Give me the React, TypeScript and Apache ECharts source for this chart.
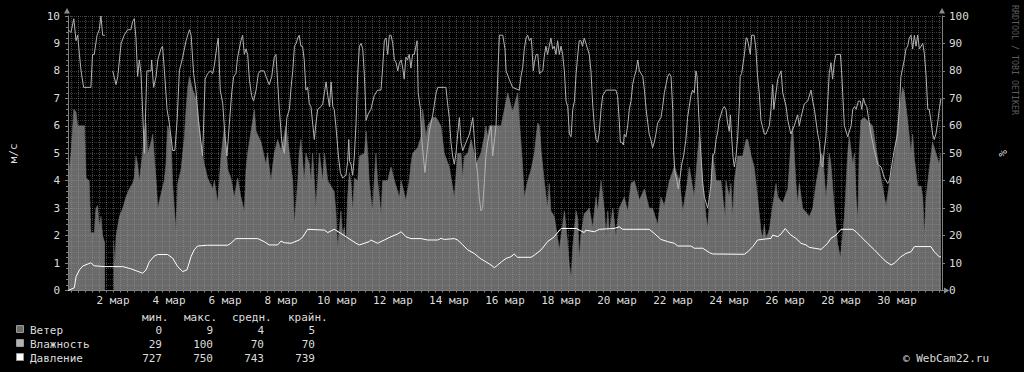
import React, { useEffect, useRef } from 'react';
import * as echarts from 'echarts';

// ---- time helpers (day-of-March, UTC) ----
const DAY_MS = 86400000;
const BASE = Date.UTC(2025, 2, 1);
const ts = (d: number) => BASE + (d - 1) * DAY_MS;
const RANGE_START = 0.393;
const RANGE_END = 31.607;
const MONTH = 'мар';

// ---- data: [day of March, value] ----
const windData: [number, number | null][] = [
  [0.40,4.1],[0.50,5.0],[0.60,6.6],[0.68,6.5],[0.74,6.0],[0.98,6.0],[1.04,4.1],[1.15,4.0],[1.21,2.1],[1.33,2.1],[1.39,3.0],[1.45,3.1],[1.51,2.3],[1.57,2.7],[1.63,2.0],[1.71,1.7],[1.74,null],
  [2.02,1.8],[2.07,1.0],[2.11,2.0],[2.23,2.7],[2.35,3.0],[2.46,3.4],[2.58,3.7],[2.70,3.9],[2.76,4.1],[2.82,4.9],[2.88,4.6],[2.94,4.0],[3.06,5.0],[3.12,5.8],[3.18,6.1],[3.24,5.0],[3.36,5.4],[3.42,5.7],[3.48,4.8],[3.54,4.0],[3.60,3.0],[3.71,3.5],[3.83,4.0],[3.89,4.6],[3.95,6.0],
  [4.07,5.6],[4.13,3.9],[4.19,3.0],[4.25,2.2],[4.31,3.9],[4.43,4.4],[4.55,5.6],[4.61,6.6],[4.67,7.4],[4.73,7.8],[4.85,7.3],[4.96,7.0],[5.02,6.6],[5.14,5.4],[5.26,4.6],[5.38,4.1],[5.56,3.7],[5.62,4.0],[5.74,3.2],[5.86,4.9],[5.98,6.0],
  [6.10,4.4],[6.21,4.1],[6.33,3.4],[6.45,4.1],[6.57,3.4],[6.69,2.9],[6.75,4.4],[6.81,5.0],[6.93,5.8],[7.05,6.6],[7.11,5.8],[7.29,5.4],[7.46,4.6],[7.52,5.0],[7.64,4.0],[7.76,5.0],[7.88,5.5],
  [8.00,5.1],[8.18,6.0],[8.30,5.0],[8.42,4.0],[8.48,2.4],[8.60,4.0],[8.65,5.0],[8.71,5.5],[8.83,4.0],[8.89,5.0],[9.01,4.6],[9.07,4.0],[9.13,5.0],[9.19,4.0],[9.25,3.0],[9.31,4.0],[9.37,5.0],[9.49,4.0],[9.55,5.0],[9.67,4.0],[9.90,3.6],[9.96,2.9],
  [10.02,1.5],[10.08,2.2],[10.14,2.9],[10.20,2.0],[10.26,2.3],[10.32,1.7],[10.38,3.4],[10.44,4.3],[10.50,3.9],[10.56,2.9],[10.62,4.1],[10.74,4.0],[10.80,4.9],[10.98,5.0],[11.04,5.8],[11.10,5.0],[11.15,4.0],[11.21,3.4],[11.27,2.9],[11.33,4.0],[11.39,5.0],[11.45,4.0],[11.57,2.8],[11.63,4.0],[11.81,4.0],[11.93,4.5],
  [12.05,4.0],[12.23,3.4],[12.29,4.0],[12.46,3.3],[12.58,4.0],[12.64,4.6],[12.70,5.0],[12.88,5.2],[13.00,5.6],[13.06,6.6],[13.18,5.6],[13.24,6.0],[13.42,6.3],[13.54,6.3],[13.71,6.0],[13.83,5.0],
  [14.01,4.5],[14.19,3.4],[14.31,5.0],[14.43,5.0],[14.49,4.1],[14.55,4.9],[14.67,5.0],[14.79,5.5],[14.90,5.0],[14.96,4.6],[15.14,5.0],[15.26,5.6],[15.32,6.0],[15.38,5.6],[15.44,6.0],[15.86,6.0],
  [16.10,7.2],[16.27,6.5],[16.45,7.2],[16.51,6.2],[16.57,5.4],[16.63,4.5],[16.69,3.4],[16.81,4.0],[16.93,4.4],[17.05,5.0],[17.11,5.6],[17.17,6.1],[17.23,6.0],[17.29,5.1],[17.40,4.0],[17.52,3.0],[17.58,3.9],[17.64,2.9],[17.76,2.7],[17.88,1.9],[17.94,1.5],
  [18.06,2.4],[18.12,2.9],[18.24,1.7],[18.30,0.9],[18.36,0.5],[18.42,1.6],[18.54,2.9],[18.60,2.6],[18.65,1.2],[18.71,2.0],[18.83,2.8],[19.01,3.0],[19.13,2.3],[19.25,3.4],[19.31,2.9],[19.43,4.0],[19.55,2.9],[19.61,2.0],[19.67,2.9],[19.73,2.1],[19.85,3.0],[19.96,2.0],
  [20.08,3.0],[20.26,3.4],[20.38,2.9],[20.50,3.9],[20.62,4.0],[20.80,3.3],[20.98,3.7],[21.15,3.0],[21.27,3.0],[21.45,2.4],[21.57,3.4],[21.69,3.1],[21.87,4.0],
  [22.05,4.5],[22.23,4.0],[22.35,2.9],[22.52,4.0],[22.58,4.5],[22.76,3.4],[22.88,5.0],[22.94,5.6],[23.06,4.0],[23.18,2.7],[23.24,2.3],[23.36,4.0],[23.42,5.0],[23.54,4.0],[23.71,4.0],[23.86,2.7],[23.89,4.0],
  [24.01,3.4],[24.07,3.9],[24.13,2.7],[24.19,4.0],[24.31,4.9],[24.49,4.9],[24.61,5.5],[24.67,5.5],[24.79,4.9],[24.90,4.5],[25.02,3.4],[25.14,2.2],[25.20,1.9],[25.26,2.4],[25.32,1.9],[25.44,2.2],[25.56,3.1],[25.68,3.9],[25.74,3.4],[25.92,3.2],
  [26.10,3.7],[26.15,4.4],[26.21,5.4],[26.27,6.0],[26.33,5.0],[26.39,3.9],[26.45,3.2],[26.51,3.9],[26.63,3.0],[26.87,2.7],[26.99,3.0],[27.11,3.9],[27.23,4.6],[27.29,5.0],[27.35,4.9],[27.46,3.4],[27.52,4.0],[27.58,5.0],[27.64,4.6],[27.76,3.0],[27.88,1.7],[27.98,1.2],
  [28.12,2.7],[28.24,5.0],[28.30,5.6],[28.42,4.6],[28.48,5.0],[28.54,3.4],[28.60,2.6],[28.65,5.0],[28.71,6.2],[28.83,6.3],[29.13,6.0],[29.19,5.6],[29.31,4.8],[29.43,4.1],[29.55,3.4],[29.61,3.1],[29.73,3.9],[29.90,4.8],
  [30.02,6.0],[30.08,6.6],[30.20,7.4],[30.26,7.2],[30.38,6.2],[30.50,5.0],[30.56,5.7],[30.62,4.8],[30.74,3.8],[30.86,3.8],[30.92,3.4],[30.98,2.0],[31.04,3.4],[31.15,4.4],[31.27,5.4],[31.39,5.0],[31.51,4.6],[31.57,5.0],
];

const humidityData: [number, number | null][] = [
  [0.40,95],[0.50,94],[0.60,99],[0.68,91],[0.74,93],[0.80,86],[0.86,80],[0.95,74],[1.21,74],[1.27,86],[1.33,86],[1.43,93],[1.51,95],[1.57,100],[1.63,93],[1.71,93],[1.75,null],
  [1.99,80],[2.11,75],[2.17,78],[2.23,84],[2.29,90],[2.40,93],[2.52,95],[2.64,95],[2.70,98],[2.76,99],[2.82,92],[2.88,78],[2.94,84],[3.00,79],[3.06,65],[3.12,50],[3.21,80],[3.36,80],[3.38,84],[3.45,74],[3.54,78],[3.60,84],[3.71,88],[3.77,89],[3.83,81],[3.93,66],
  [4.01,61],[4.13,51],[4.21,51],[4.29,62],[4.37,80],[4.49,85],[4.61,91],[4.73,95],[4.79,93],[4.88,79],[4.96,73],[5.05,62],[5.14,54],[5.20,49],[5.29,77],[5.38,79],[5.48,80],[5.56,79],[5.62,82],[5.71,89],[5.76,92],[5.83,73],[5.92,68],
  [6.00,56],[6.07,49],[6.15,60],[6.24,72],[6.31,78],[6.39,79],[6.45,85],[6.57,91],[6.63,93],[6.69,86],[6.75,88],[6.81,86],[6.87,77],[6.95,71],[7.02,69],[7.11,73],[7.19,79],[7.26,80],[7.40,80],[7.46,78],[7.58,75],[7.67,78],[7.76,85],[7.82,86],[7.88,76],[7.94,66],
  [8.03,54],[8.12,50],[8.21,63],[8.30,66],[8.36,74],[8.42,80],[8.48,89],[8.54,90],[8.60,92],[8.65,93],[8.71,89],[8.77,89],[8.83,84],[8.89,73],[8.95,74],[9.01,68],[9.07,67],[9.13,61],[9.19,55],[9.25,61],[9.31,66],[9.43,67],[9.49,68],[9.55,72],[9.61,76],[9.67,71],[9.73,67],[9.79,76],[9.85,67],[9.90,66],[9.96,60],
  [10.05,49],[10.12,43],[10.20,41],[10.32,42],[10.38,47],[10.42,55],[10.45,47],[10.50,46],[10.56,42],[10.62,49],[10.68,61],[10.74,79],[10.80,89],[10.86,90],[10.92,88],[10.98,78],[11.04,62],[11.10,64],[11.21,66],[11.33,71],[11.45,73],[11.57,73],[11.63,81],[11.69,91],[11.75,92],[11.81,86],[11.87,93],[11.93,93],[11.99,90],
  [12.05,84],[12.11,83],[12.17,80],[12.23,83],[12.29,84],[12.35,81],[12.40,77],[12.46,85],[12.52,84],[12.58,86],[12.64,81],[12.70,86],[12.76,86],[12.86,91],[12.90,72],[12.98,66],[13.02,56],[13.10,47],[13.14,43],[13.21,50],[13.30,58],[13.42,64],[13.54,72],[13.60,74],[13.89,74],[13.95,68],
  [14.01,63],[14.07,54],[14.13,49],[14.19,46],[14.25,50],[14.31,57],[14.37,63],[14.43,54],[14.49,51],[14.61,54],[14.73,57],[14.85,63],[14.90,56],[14.96,47],[15.02,43],[15.08,34],[15.14,29],[15.20,30],[15.26,39],[15.32,49],[15.38,54],[15.50,60],[15.56,49],[15.68,60],[15.74,78],[15.80,93],[15.92,93],
  [16.00,88],[16.04,80],[16.15,77],[16.27,74],[16.51,73],[16.57,78],[16.63,81],[16.69,88],[16.75,92],[16.81,93],[16.87,91],[16.93,92],[16.96,89],[17.01,80],[17.05,83],[17.11,86],[17.17,86],[17.23,79],[17.35,80],[17.40,85],[17.46,89],[17.52,86],[17.58,89],[17.64,92],[17.70,88],[17.76,89],[17.82,86],[17.88,91],[17.94,86],
  [18.00,89],[18.06,86],[18.12,80],[18.18,69],[18.24,67],[18.30,57],[18.36,56],[18.42,66],[18.48,69],[18.54,79],[18.60,86],[18.65,91],[18.71,91],[18.77,89],[18.83,92],[18.89,90],[18.95,88],[19.01,86],[19.07,80],[19.13,68],[19.19,60],[19.25,55],[19.31,54],[19.37,58],[19.43,66],[19.49,71],[19.61,73],[19.96,73],
  [20.02,71],[20.08,62],[20.12,54],[20.17,54],[20.23,53],[20.26,57],[20.32,56],[20.38,60],[20.44,66],[20.50,69],[20.56,75],[20.62,78],[20.68,80],[20.74,84],[20.80,80],[20.92,78],[20.98,73],[21.04,66],[21.10,61],[21.15,57],[21.21,55],[21.27,52],[21.33,54],[21.39,57],[21.45,61],[21.57,63],[21.63,67],[21.69,72],[21.75,75],[21.81,78],[21.87,79],[21.93,78],[21.99,66],
  [22.02,51],[22.07,43],[22.14,40],[22.19,37],[22.25,41],[22.31,46],[22.38,49],[22.46,55],[22.52,63],[22.58,67],[22.64,71],[22.70,73],[22.76,72],[22.82,80],[22.86,78],[22.90,68],[22.96,56],[23.00,49],[23.06,39],[23.12,34],[23.18,32],[23.24,30],[23.30,34],[23.36,39],[23.42,49],[23.48,50],[23.54,55],[23.60,58],[23.65,62],[23.77,66],[23.83,67],[23.89,66],[23.95,61],
  [24.01,58],[24.05,64],[24.10,55],[24.14,49],[24.19,45],[24.25,49],[24.31,56],[24.37,68],[24.40,78],[24.45,79],[24.55,86],[24.61,92],[24.64,92],[24.69,90],[24.76,86],[24.81,93],[24.90,93],[24.96,88],[25.02,78],[25.08,72],[25.14,62],[25.26,57],[25.32,57],[25.44,60],[25.50,66],[25.56,75],[25.60,66],[25.64,69],[25.74,77],[25.86,80],[25.92,72],
  [26.04,67],[26.10,62],[26.21,57],[26.33,60],[26.45,64],[26.51,60],[26.57,63],[26.69,68],[26.81,69],[26.93,73],[26.99,69],[27.05,66],[27.17,57],[27.23,54],[27.29,46],[27.35,45],[27.40,51],[27.46,56],[27.52,68],[27.58,79],[27.64,83],[27.70,77],[27.76,83],[27.82,86],[27.98,86],
  [28.02,80],[28.06,72],[28.12,60],[28.24,56],[28.36,60],[28.42,66],[28.48,67],[28.54,66],[28.62,69],[28.69,69],[28.74,66],[28.80,70],[28.86,68],[28.92,67],[28.98,63],[29.07,57],[29.19,51],[29.31,46],[29.43,45],[29.55,41],[29.67,39],[29.73,40],[29.79,44],[29.90,51],[29.96,54],
  [30.02,57],[30.08,66],[30.14,78],[30.20,81],[30.26,84],[30.32,88],[30.38,89],[30.44,92],[30.50,93],[30.56,88],[30.62,93],[30.68,89],[30.74,93],[30.80,88],[30.92,90],[30.98,86],[31.04,78],[31.10,66],[31.15,66],[31.21,62],[31.27,57],[31.33,55],[31.39,57],[31.45,61],[31.51,66],[31.57,70],
];

const pressureData: [number, number][] = [
  [0.40,727.0],[0.62,728.0],[0.68,732.0],[0.80,734.5],[0.92,735.9],[1.21,737.1],[1.33,736.0],[1.69,735.7],[2.35,735.7],[2.64,734.9],[3.06,733.3],[3.18,734.5],[3.30,737.5],[3.48,739.6],[3.60,740.1],[3.95,740.1],
  [4.13,738.8],[4.31,735.7],[4.49,733.9],[4.64,734.5],[4.79,739.4],[4.90,741.8],[5.02,743.2],[5.38,743.5],[6.10,743.5],[6.21,744.2],[6.39,745.9],[7.17,745.9],[7.40,744.8],[7.58,743.6],[7.88,743.6],
  [8.00,745.0],[8.12,744.4],[8.36,744.2],[8.65,745.4],[8.77,746.4],[8.95,749.3],[9.55,749.0],[9.67,748.1],[9.90,749.3],[10.14,747.8],[10.32,746.6],[10.50,745.4],[10.68,744.2],[10.80,743.6],[11.15,744.8],[11.21,745.4],[11.45,744.2],[11.69,745.4],[11.93,746.6],
  [12.17,747.6],[12.29,748.4],[12.46,746.6],[12.64,745.9],[13.00,745.9],[13.24,745.4],[13.60,745.4],[13.71,746.0],[13.83,745.6],[14.19,745.9],[14.31,745.4],[14.49,743.6],[14.67,741.8],[14.90,740.5],[15.14,738.5],[15.26,737.8],[15.50,736.3],[15.62,735.3],[15.74,736.3],[15.92,737.8],
  [16.04,738.7],[16.21,739.3],[16.33,740.3],[16.45,739.1],[16.93,739.1],[17.05,739.9],[17.29,741.8],[17.52,744.8],[17.76,746.6],[18.00,749.6],[18.54,749.6],[18.83,748.1],[18.89,749.0],[19.19,748.4],[19.37,749.3],[19.90,749.6],
  [20.08,750.2],[20.20,749.3],[21.15,749.3],[21.33,747.8],[21.57,745.6],[21.81,744.8],[22.05,744.2],[22.17,743.2],[22.64,743.2],[22.76,742.4],[23.06,742.4],[23.30,740.8],[23.42,740.3],[24.55,740.2],[24.67,741.1],[24.85,743.0],
  [25.02,745.4],[25.50,746.0],[25.56,747.2],[25.74,746.6],[25.86,747.6],[26.01,749.6],[26.10,748.4],[26.21,747.2],[26.39,746.0],[26.57,744.2],[26.75,743.6],[26.87,742.7],[27.29,742.0],[27.40,743.0],[27.52,744.2],[27.64,746.0],[27.82,747.2],
  [28.00,749.3],[28.42,749.3],[28.54,748.4],[28.71,746.6],[28.95,744.2],[29.19,741.8],[29.43,739.3],[29.61,737.5],[29.79,736.3],[29.90,736.9],[30.14,739.3],[30.32,740.5],[30.50,741.1],[30.62,743.0],[31.21,743.0],[31.33,741.1],[31.51,739.3],[31.57,739.3],
];

// ---- legend table ----
const legendNames = ['Ветер', 'Влажность', 'Давление'];
const legendHeaders = ['мин.', 'макс.', 'средн.', 'крайн.'];
const statMin = ['0', '29', '727'];
const statMax = ['9', '100', '750'];
const statAvg = ['4', '70', '743'];
const statLast = ['5', '70', '739'];
const COPYRIGHT = '© WebCam22.ru';
const WATERMARK = 'RRDTOOL / TOBI OETIKER';

const WIND_COLOR = '#6a6a6a';
const HUM_COLOR = '#b2b2b2';
const PRES_COLOR = '#ffffff';
const TEXT_COLOR = '#dcdcdc';
const GRID_COLOR = 'rgba(160,160,160,0.42)';
const AXIS_COLOR = '#808080';
const FONT = 'DejaVu Sans Mono';

export default function App() {
  const ref = useRef<HTMLDivElement>(null);

  useEffect(() => {
    if (!ref.current) return;
    const chart = echarts.init(ref.current, null, { renderer: 'svg' });

    const legendColors = [WIND_COLOR, HUM_COLOR, PRES_COLOR];
    const rowsY = [330, 344, 358];
    const colRight = [162, 213, 264, 315];
    const headerX = [142, 184, 232, 288];
    const stats = [statMin, statMax, statAvg, statLast];
    const font = `11px "${FONT}"`;

    const graphic: any[] = [];
    legendHeaders.forEach((h, i) => {
      graphic.push({ type: 'text', x: headerX[i], y: 317, style: { text: h, fill: TEXT_COLOR, font, textAlign: 'left', textVerticalAlign: 'middle' } });
    });
    legendNames.forEach((n, r) => {
      graphic.push({ type: 'rect', shape: { x: 16.5, y: rowsY[r] - 4.5, width: 7, height: 7 }, style: { fill: legendColors[r], stroke: '#9a9a9a', lineWidth: 1 } });
      graphic.push({ type: 'text', x: 30, y: rowsY[r], style: { text: n, fill: TEXT_COLOR, font, textAlign: 'left', textVerticalAlign: 'middle' } });
      stats.forEach((col, c) => {
        graphic.push({ type: 'text', x: colRight[c], y: rowsY[r], style: { text: col[r], fill: TEXT_COLOR, font, textAlign: 'right', textVerticalAlign: 'middle' } });
      });
    });
    graphic.push({ type: 'text', x: 903, y: 358, style: { text: COPYRIGHT, fill: TEXT_COLOR, font, textAlign: 'left', textVerticalAlign: 'middle' } });
    graphic.push({ type: 'text', x: 1015, y: 5, rotation: -Math.PI / 2, style: { text: WATERMARK, fill: '#5c5c5c', font: `8.3px "${FONT}"`, textAlign: 'left', textVerticalAlign: 'middle' } });
    // axis arrows
    graphic.push({ type: 'polygon', shape: { points: [[64, 13.5], [70, 13.5], [67, 8]] }, style: { fill: '#8c8c8c' } });
    graphic.push({ type: 'polygon', shape: { points: [[939, 13.5], [945, 13.5], [942, 8]] }, style: { fill: '#8c8c8c' } });
    graphic.push({ type: 'polygon', shape: { points: [[944, 287.5], [944, 293.5], [949.5, 290.5]] }, style: { fill: '#8c8c8c' } });

    const splitLine = { show: true, lineStyle: { color: GRID_COLOR, type: 'dotted', width: 1 } };

    chart.setOption({
      animation: false,
      useUTC: true,
      backgroundColor: '#000000',
      textStyle: { fontFamily: FONT },
      grid: { left: 67, right: 82, top: 16, bottom: 81.5, containLabel: false },
      xAxis: {
        type: 'time',
        min: ts(RANGE_START),
        max: ts(RANGE_END),
        minInterval: 7 * 3600e3,
        maxInterval: 7 * 3600e3,
        z: 3,
        axisLine: { show: true, lineStyle: { color: AXIS_COLOR } },
        axisTick: { show: true, length: 2, lineStyle: { color: AXIS_COLOR } },
        axisLabel: {
          color: TEXT_COLOR,
          fontSize: 11,
          fontFamily: FONT,
          margin: 4,
          hideOverlap: false,
          formatter: (val: number) => {
            const dt = new Date(val);
            if (dt.getUTCHours() === 0 && dt.getUTCMinutes() === 0 && dt.getUTCDate() % 2 === 0) {
              return `${dt.getUTCDate()} ${MONTH}`;
            }
            return '';
          },
        },
        splitLine,
      },
      yAxis: [
        {
          type: 'value', min: 0, max: 10, interval: 1, position: 'left', z: 3,
          name: 'м/с', nameLocation: 'middle', nameGap: 49, nameRotate: 90,
          nameTextStyle: { color: TEXT_COLOR, fontSize: 11, fontFamily: FONT },
          axisLine: { show: true, lineStyle: { color: AXIS_COLOR } },
          axisTick: { show: true, length: 3, lineStyle: { color: AXIS_COLOR } },
          minorTick: { show: true, splitNumber: 5, length: 2, lineStyle: { color: AXIS_COLOR } },
          axisLabel: { color: TEXT_COLOR, fontSize: 11, fontFamily: FONT, margin: 8 },
          splitLine,
          minorSplitLine: { show: true, lineStyle: { color: 'rgba(150,150,150,0.36)', type: 'dotted', width: 1 } },
        },
        {
          type: 'value', min: 0, max: 100, interval: 10, position: 'right', z: 3,
          name: '%', nameLocation: 'middle', nameGap: 55, nameRotate: -90,
          nameTextStyle: { color: TEXT_COLOR, fontSize: 11, fontFamily: FONT },
          axisLine: { show: true, lineStyle: { color: AXIS_COLOR } },
          axisTick: { show: true, length: 3, lineStyle: { color: AXIS_COLOR } },
          axisLabel: { color: TEXT_COLOR, fontSize: 11, fontFamily: FONT, margin: 7 },
          splitLine: { show: false },
        },
        { type: 'value', min: 727, max: 827, show: false, splitLine: { show: false } },
      ],
      series: [
        {
          name: 'Ветер', type: 'line', yAxisIndex: 0, z: 2,
          data: windData.map(([d, v]) => [ts(d), v]),
          showSymbol: false, connectNulls: false,
          lineStyle: { color: WIND_COLOR, width: 0.6 },
          areaStyle: { color: WIND_COLOR, opacity: 1 },
        },
        {
          name: 'Влажность', type: 'line', yAxisIndex: 1, z: 4,
          data: humidityData.map(([d, v]) => [ts(d), v]),
          showSymbol: false, connectNulls: false,
          lineStyle: { color: HUM_COLOR, width: 1 },
        },
        {
          name: 'Давление', type: 'line', yAxisIndex: 2, z: 5,
          data: pressureData.map(([d, v]) => [ts(d), v]),
          showSymbol: false,
          lineStyle: { color: PRES_COLOR, width: 1 },
        },
      ],
      graphic,
    });

    return () => chart.dispose();
  }, []);

  return (
    <div style={{ position: 'fixed', left: 0, top: 0, width: 1024, height: 372, background: '#000' }}>
      <div ref={ref} style={{ width: 1024, height: 372 }} />
    </div>
  );
}
